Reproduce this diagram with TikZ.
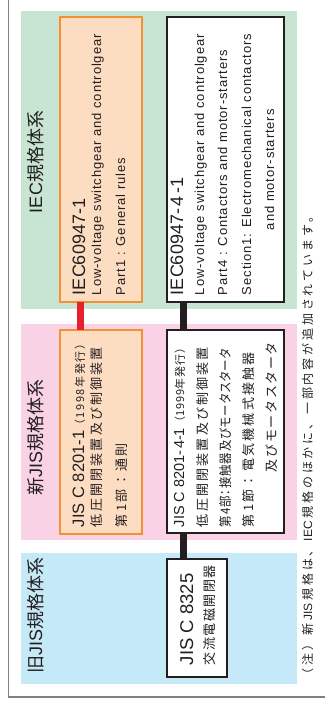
\documentclass[tikz,border=0pt]{standalone}
\usepackage{fontspec}
\setmainfont{Liberation Sans}
\newfontfamily\bodyfont[LetterSpace=7]{Liberation Sans}
\newfontfamily\hdfont{Liberation Sans}
\newfontfamily\jpfont{Noto Sans CJK JP}
\newfontfamily\jpprop[RawFeature=+palt]{Noto Sans CJK JP}
\definecolor{ink}{HTML}{231F20}
\definecolor{iecgreen}{HTML}{C8E4D3}
\definecolor{jispink}{HTML}{F9D3E5}
\definecolor{oldblue}{HTML}{C6E9F8}
\definecolor{orangefill}{HTML}{FDDDC2}
\definecolor{orangeline}{HTML}{F39033}
\definecolor{redc}{HTML}{E6212B}
\definecolor{framegray}{HTML}{808080}
\makeatletter
\def\spr@loop#1{\ifx\relax#1\else\hfil#1\expandafter\spr@loop\fi}
\def\spr@first#1{#1\spr@loop}
\newcommand\spreadto[2]{\hbox to #1{\spr@first#2\relax}}
\makeatother
\tikzset{
  txt/.style={rotate=90, anchor=base west, inner sep=0pt, outer sep=0pt, text=ink},
  body/.style={txt, font=\bodyfont\fontsize{13}{15}\selectfont},
  jp/.style={txt, font=\jpfont\fontsize{13}{15}\selectfont},
  jpp/.style={txt, font=\jpprop\fontsize{13}{15}\selectfont},
  hd/.style={txt, font=\hdfont\fontsize{18}{20}\selectfont},
  ttl/.style={txt, font=\hdfont\fontsize{18}{20}\selectfont},
  note/.style={txt, font=\jpfont\fontsize{12}{14}\selectfont},
  obox/.style={draw=orangeline, fill=orangefill, line width=2pt, inner sep=0pt, outer sep=0pt},
  kbox/.style={draw=ink, fill=white, line width=2pt, inner sep=0pt, outer sep=0pt},
  conn/.style={line width=7pt},
}
\begin{document}
\begin{tikzpicture}[x=1pt,y=-1pt]
\useasboundingbox (0,0) rectangle (325,705);
% page frame
\draw[framegray, line width=1.5pt] (8.5,0) -- (8.5,697) -- (325,697);
% bands
\fill[iecgreen] (21,11) rectangle (297,309);
\fill[jispink] (21,324) rectangle (297,540);
\fill[oldblue] (21,553) rectangle (297,684);
% band titles
\node[ttl] (t1) at (42,213) {IEC{\jpfont 規格体系}};
\node[ttl] (t2) at (42,495) {{\jpfont 新}JIS{\jpfont 規格体系}};
\node[ttl] (t3) at (42,673) {{\jpfont 旧}JIS{\jpfont 規格体系}};
% boxes
\node[obox, minimum width=82pt, minimum height=285pt] (b1) at (101,159.5) {};
\node[kbox, minimum width=117pt, minimum height=285pt] (b2) at (225.5,159.5) {};
\node[obox, minimum width=82pt, minimum height=204pt] (b3) at (101,432) {};
\node[kbox, minimum width=117pt, minimum height=203pt] (b4) at (225.5,431.5) {};
\node[kbox, minimum width=60pt, minimum height=118pt] (b5) at (197,618) {};
% connectors
\coordinate (rx) at (80,0);
\coordinate (kx) at (183.5,0);
\draw[conn, draw=redc] (b1.south -| rx) -- (b3.north -| rx);
\draw[conn, draw=ink] (b2.south -| kx) -- (b4.north -| kx);
\draw[conn, draw=ink] (b4.south -| kx) -- (b5.north -| kx);
% IEC60947-1
\node[hd] (a1) at (85,295) {IEC60947-1};
\node[body] (a2) at (101,295) {Low-voltage switchgear and controlgear};
\node[body] (a3) at (125,295) {Part1 : General rules};
% IEC60947-4-1
\node[hd] (c1) at (183,295) {IEC60947-\hspace{2.5pt}4\hspace{2.5pt}-1};
\node[body] (c2) at (204,295) {Low-voltage switchgear and controlgear};
\node[body] (c3) at (227,295) {Part4 : Contactors and motor-starters};
\node[body] (c4) at (251,295) {Section1: Electromechanical contactors};
\node[body] (c5) at (274,230) {and motor-starters};
% JIS C 8201-1
\node[txt] (d1) at (84,527) {\hdfont\fontsize{16.5}{18}\selectfont JIS C 8201-1\jpfont\fontsize{11}{12}\selectfont\spreadto{92pt}{（1998年発行）}};
\node[jp] (d2) at (101.5,527) {\spreadto{180pt}{低圧開閉装置及び制御装置}};
\node[jp] (d3) at (126,527) {\spreadto{84pt}{第1部：通則}};
% JIS C 8201-4-1
\node[txt] (e1) at (184,527) {\hdfont\fontsize{14.5}{16}\selectfont JIS C 8201-\kern1.5pt 4-1\jpfont\fontsize{11}{12}\selectfont\spreadto{85pt}{（1999年発行）}};
\node[jp] (e2) at (207,527) {\spreadto{180pt}{低圧開閉装置及び制御装置}};
\node[jpp] (e3) at (230,527) {\scalebox{0.88}[1]{\spreadto{202pt}{第4部：接触器及びモータスタータ}}};
\node[jp] (e4) at (253,527) {\spreadto{175pt}{第1節：電気機械式接触器}};
\node[jp] (e5) at (276,472) {\spreadto{130pt}{及びモータスタータ}};
% JIS C 8325
\node[hd, font=\hdfont\fontsize{18.5}{20}\selectfont] (f1) at (193,665) {JIS C 8325};
\node[jp] (f2) at (214,665) {\spreadto{100pt}{交流電磁開閉器}};
% note
\node[note] (n1) at (312,680) {\spreadto{470pt}{（注）新{{\hdfont JIS}}規格は、{{\hdfont IEC}}規格のほかに、一部内容が追加されています。}};
\end{tikzpicture}
\end{document}
